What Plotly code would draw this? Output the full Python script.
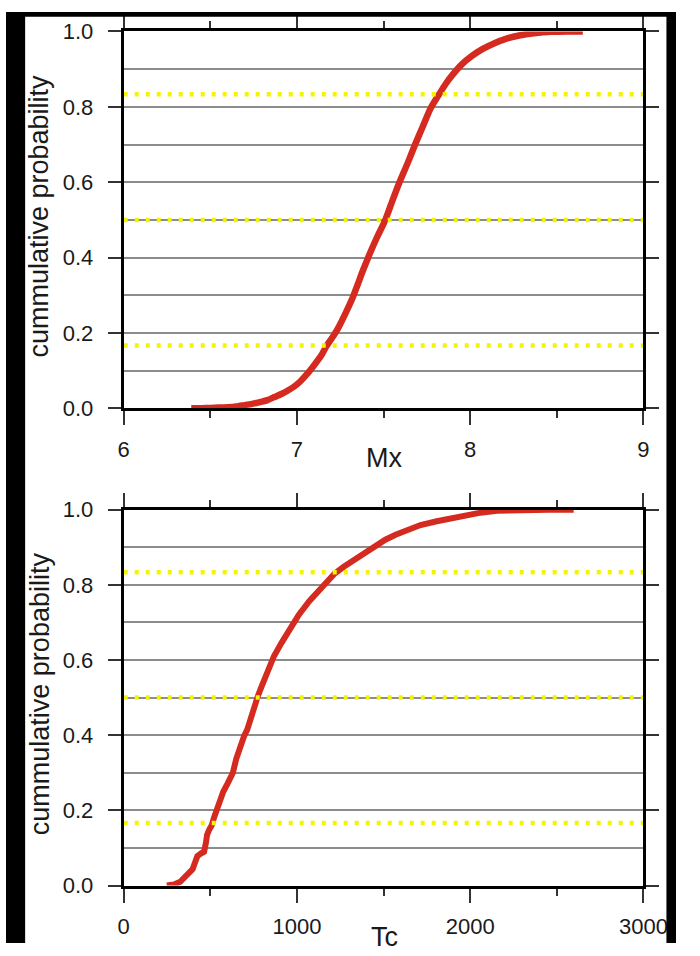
import plotly.graph_objects as go

# ---- data ----
mx_values = [6.39, 6.45, 6.50, 6.55, 6.60, 6.65, 6.69, 6.74, 6.78, 6.83, 6.87, 6.91, 6.95,
             6.99, 7.02, 7.06, 7.10, 7.14, 7.17, 7.21, 7.24, 7.28, 7.32, 7.35, 7.38, 7.42,
             7.46, 7.51, 7.55, 7.59, 7.64, 7.68, 7.73, 7.77, 7.82, 7.86, 7.90, 7.95, 8.01,
             8.07, 8.14, 8.21, 8.29, 8.38, 8.47, 8.56, 8.65]
mx_prob = [0.000, 0.0005, 0.001, 0.002, 0.003, 0.005, 0.008, 0.012, 0.016, 0.022, 0.030,
           0.038, 0.048, 0.060, 0.072, 0.092, 0.115, 0.140, 0.165, 0.192, 0.215, 0.252,
           0.292, 0.328, 0.365, 0.410, 0.452, 0.500, 0.550, 0.598, 0.652, 0.698, 0.752,
           0.795, 0.833, 0.862, 0.886, 0.912, 0.935, 0.953, 0.969, 0.981, 0.990, 0.996,
           0.999, 1.000, 1.000]

tc_values = [249, 290, 326, 345, 359, 380, 398, 412, 425, 445,
             464, 475, 481, 495, 508, 522, 536, 555, 575, 600,
             630, 650, 674, 695, 713, 728, 740, 757, 775, 796,
             830, 867, 910, 961, 1010, 1072, 1115, 1160, 1215, 1270,
             1326, 1390, 1459, 1510, 1569, 1640, 1713, 1807, 1900, 1972,
             2060, 2155, 2250, 2343, 2450, 2597]
tc_prob = [0.0, 0.003, 0.01, 0.018, 0.026, 0.032, 0.044, 0.062, 0.078, 0.085,
           0.09, 0.115, 0.135, 0.15, 0.16, 0.182, 0.20, 0.228, 0.25, 0.272,
           0.30, 0.338, 0.373, 0.398, 0.415, 0.44, 0.46, 0.48, 0.505, 0.53,
           0.572, 0.61, 0.645, 0.684, 0.72, 0.757, 0.778, 0.80, 0.829, 0.848,
           0.865, 0.886, 0.904, 0.92, 0.933, 0.947, 0.959, 0.969, 0.978, 0.984,
           0.992, 0.997, 0.999, 1.0, 1.0, 1.0]

ref_levels = [1 / 6, 0.5, 5 / 6]

mx_range = [6, 9]
tc_range = [0, 3000]
y_range = [0, 1]
mx_ticks = [6, 7, 8, 9]
tc_ticks = [0, 1000, 2000, 3000]
y_ticks = [0.0, 0.2, 0.4, 0.6, 0.8, 1.0]

y_title = "cummulative probability"
x_titles = ["Mx", "Tc"]

# ---- styling ----
W, H = 700, 956
RED = "#d42a1f"
YELLOW = "#f4f400"
GRID = "#8c8c8c"
FONT = "Liberation Sans, Arial, sans-serif"
TXT = "#1a1a1a"

fig = go.Figure()

# red curves
fig.add_trace(go.Scatter(x=mx_values, y=mx_prob, mode="lines",
                         line=dict(color=RED, width=6.5, shape="spline", smoothing=0.6),
                         xaxis="x", yaxis="y", showlegend=False, hoverinfo="skip"))
fig.add_trace(go.Scatter(x=tc_values, y=tc_prob, mode="lines",
                         line=dict(color=RED, width=6, shape="linear"), xaxis="x2", yaxis="y2",
                         showlegend=False, hoverinfo="skip"))

# yellow dotted reference levels
for xr, xa, ya in [(mx_range, "x", "y"), (tc_range, "x2", "y2")]:
    for lv in ref_levels:
        fig.add_trace(go.Scatter(x=[xr[0], xr[1]], y=[lv, lv], mode="lines",
                                 line=dict(color=YELLOW, width=4.5, dash="4px,7px"),
                                 xaxis=xa, yaxis=ya, showlegend=False, hoverinfo="skip"))

x_dom = [123 / W, 666 / W]
top_dom = [(H - 407) / H, (H - 20) / H]
bot_dom = [(H - 897) / H, (H - 511) / H]


def xaxis(rng, ticks, minor_dtick, anchor):
    return dict(domain=x_dom, range=rng, anchor=anchor, tickmode="array", tickvals=ticks,
                ticktext=[str(t) for t in ticks],
                showline=True, linecolor="black", linewidth=3, mirror="allticks",
                ticks="outside", ticklen=14, tickwidth=1.5, tickcolor="#333",
                ticklabelstandoff=5,
                showgrid=False, zeroline=False,
                tickfont=dict(family=FONT, size=22, color=TXT),
                minor=dict(dtick=minor_dtick, tick0=rng[0], ticks="outside", ticklen=7,
                           tickwidth=1.5, tickcolor="#333", showgrid=False))


def yaxis(dom, anchor):
    return dict(domain=dom, range=y_range, anchor=anchor, tickmode="array", tickvals=y_ticks,
                ticktext=[f"{t:.1f}" for t in y_ticks],
                showline=True, linecolor="black", linewidth=3, mirror="allticks",
                ticks="outside", ticklen=13, tickwidth=1.5, tickcolor="#333",
                ticklabelstandoff=10,
                showgrid=True, gridcolor=GRID, gridwidth=1.5, zeroline=False,
                tickfont=dict(family=FONT, size=22, color=TXT),
                minor=dict(dtick=0.1, tick0=0, showgrid=True, gridcolor=GRID, gridwidth=1.5,
                           ticks=""))


annotations = []
for dom in (top_dom, bot_dom):
    annotations.append(dict(text=y_title, textangle=-90, x=35 / W, y=(dom[0] + dom[1]) / 2 + 4 / H,
                            xref="paper", yref="paper", xanchor="center", yanchor="middle",
                            showarrow=False, font=dict(family=FONT, size=27, color=TXT)))
annotations.append(dict(text=x_titles[0], x=395 / W, y=(H - 458) / H, xref="paper", yref="paper",
                        xanchor="center", yanchor="middle", showarrow=False,
                        font=dict(family=FONT, size=27, color=TXT)))
annotations.append(dict(text=x_titles[1], x=395 / W, y=(H - 950) / H, xref="paper", yref="paper",
                        xanchor="center", yanchor="middle", showarrow=False,
                        font=dict(family=FONT, size=27, color=TXT)))

shapes = [
    dict(type="rect", xref="paper", yref="paper", x0=0, x1=20 / W, y0=0, y1=1,
         fillcolor="black", line=dict(width=0), layer="above"),
    dict(type="rect", xref="paper", yref="paper", x0=690 / W, x1=1, y0=0, y1=1,
         fillcolor="black", line=dict(width=0), layer="above"),
    dict(type="rect", xref="paper", yref="paper", x0=0, x1=1, y0=(H - 5) / H, y1=1,
         fillcolor="black", line=dict(width=0), layer="above"),
]

fig.update_layout(
    width=W, height=H, margin=dict(l=0, r=0, t=0, b=0),
    paper_bgcolor="white", plot_bgcolor="white",
    xaxis=xaxis(mx_range, mx_ticks, 0.5, "y"),
    yaxis=yaxis(top_dom, "x"),
    xaxis2=xaxis(tc_range, tc_ticks, 500, "y2"),
    yaxis2=yaxis(bot_dom, "x2"),
    annotations=annotations, shapes=shapes, showlegend=False,
)

fig.write_html("out.html")
